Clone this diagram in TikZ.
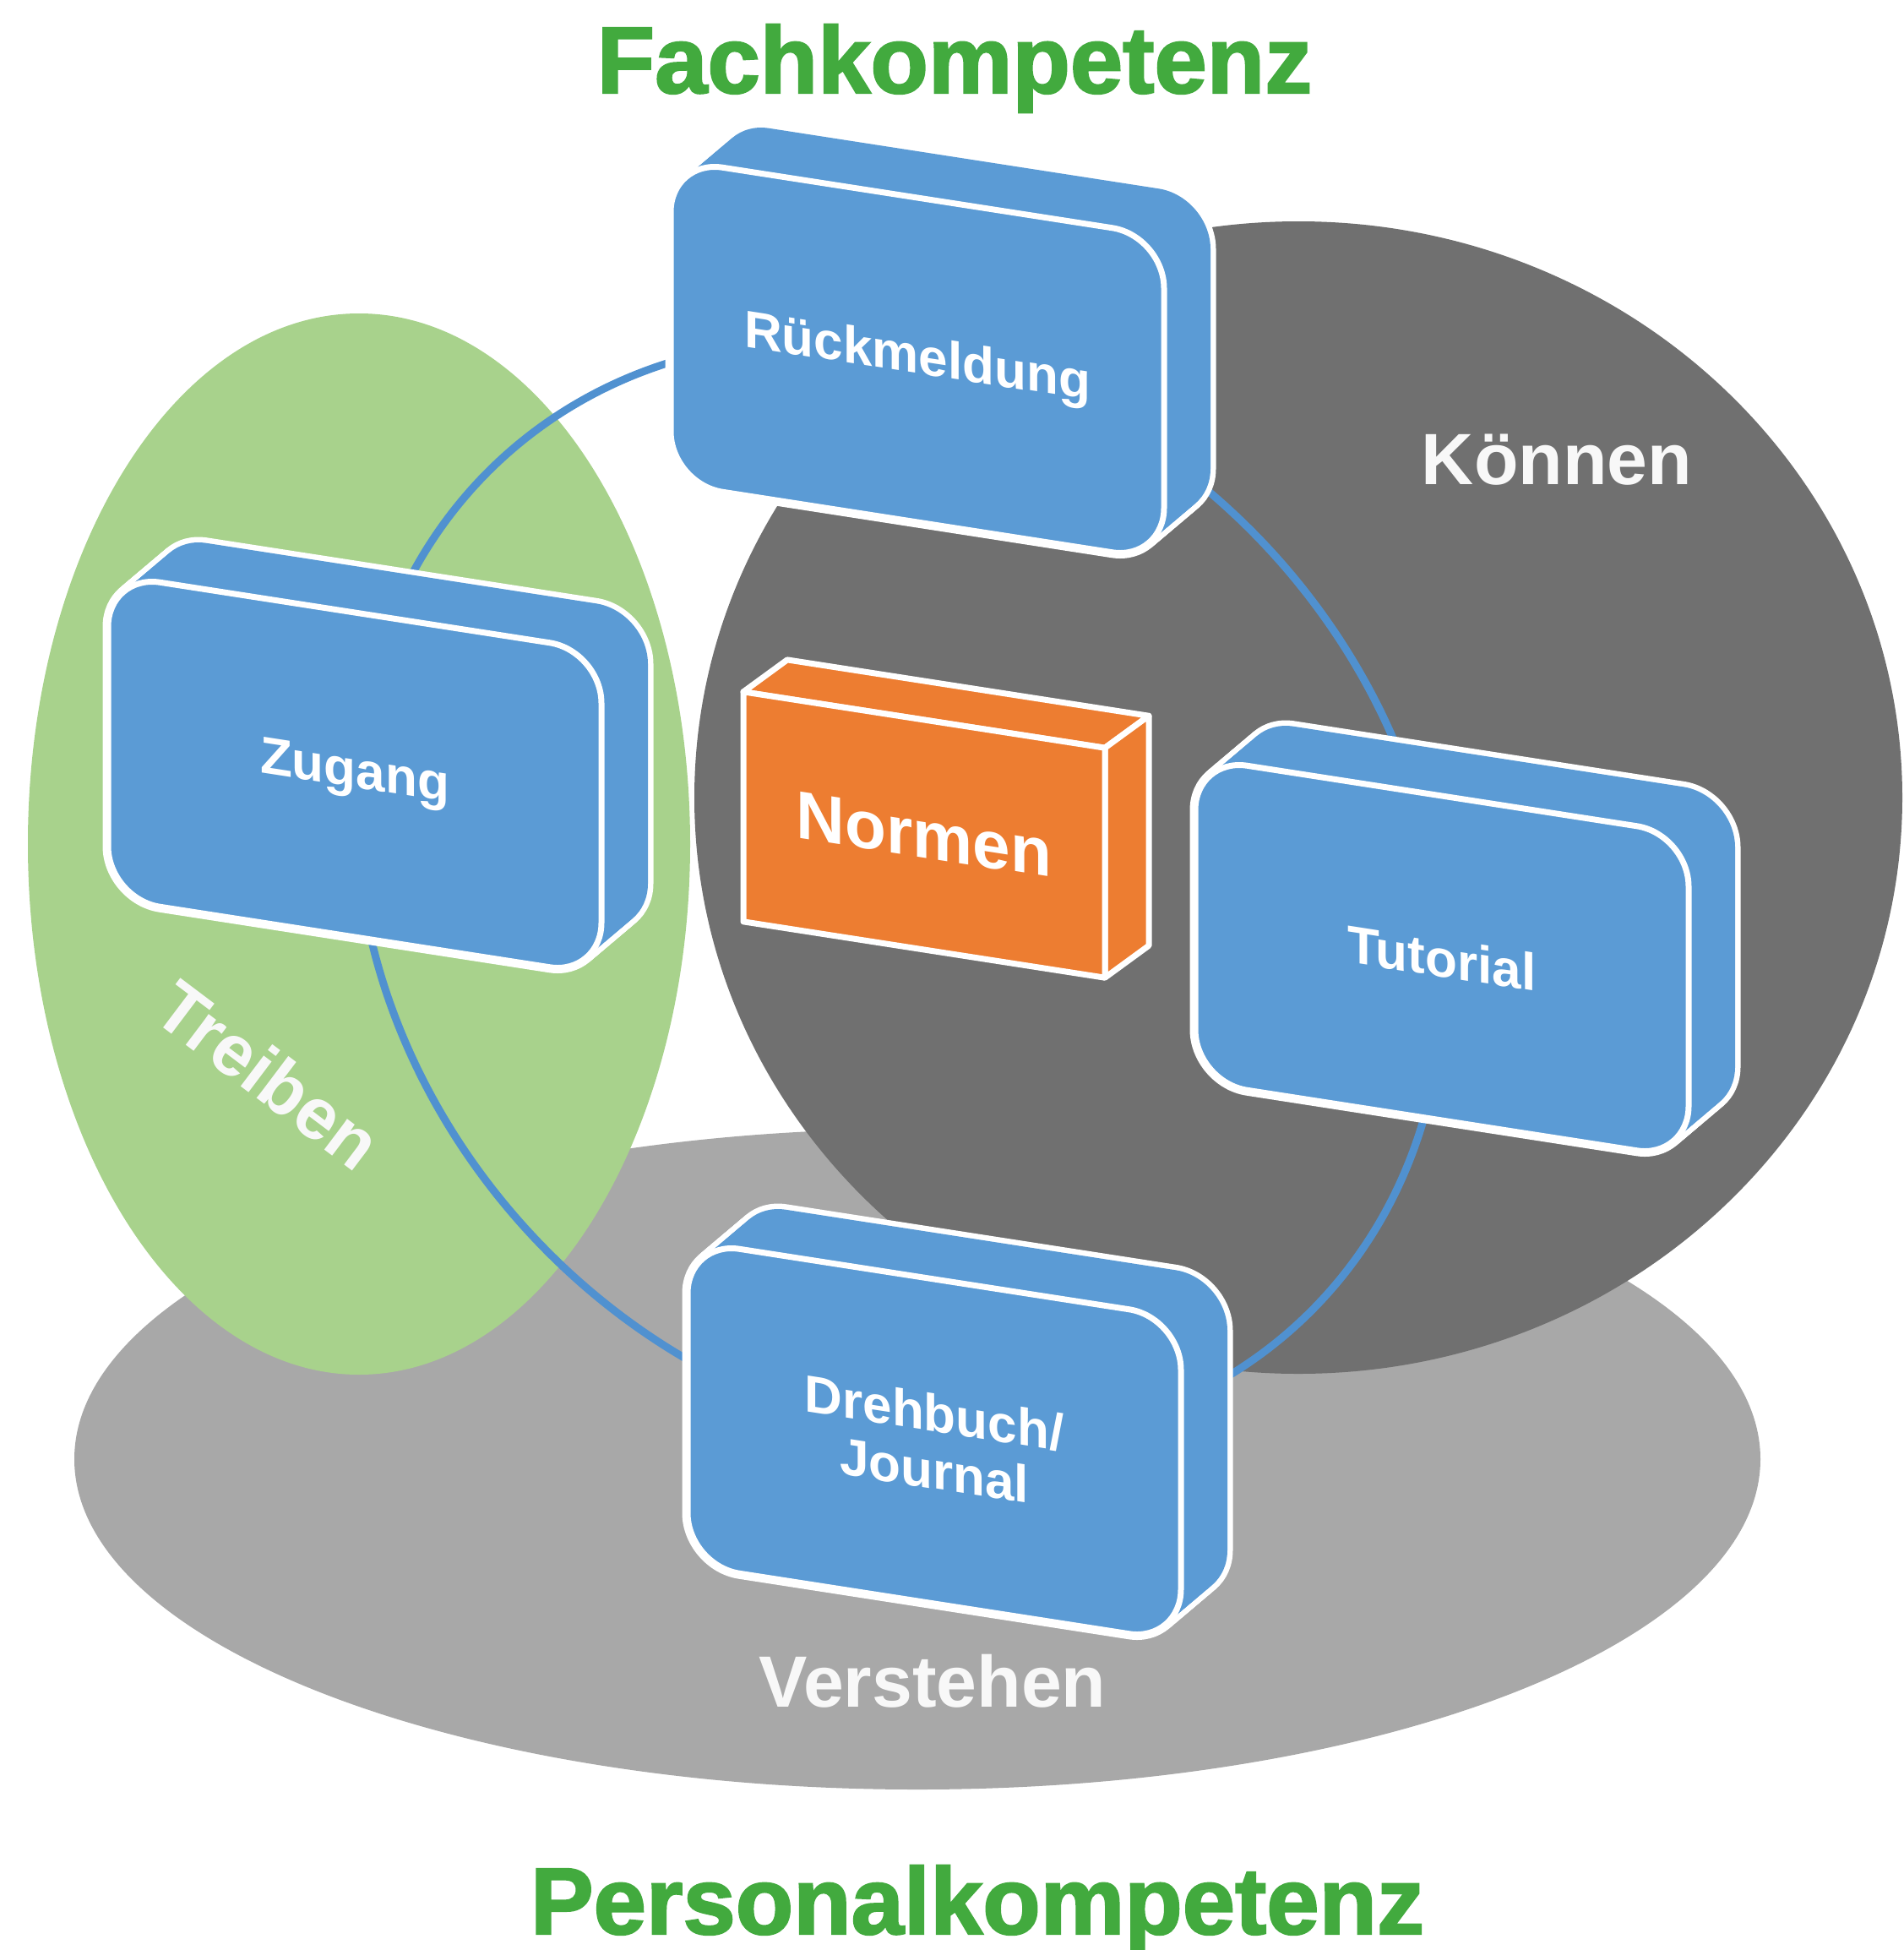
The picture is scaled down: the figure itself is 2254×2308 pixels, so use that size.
\documentclass[tikz,border=0pt]{standalone}
\usepackage{fontspec}
\setmainfont{Liberation Sans}
\newfontfamily\titlefont[FakeBold=2]{Liberation Sans Bold}
\newfontfamily\lblfont{Liberation Sans Bold}
\definecolor{boxblue}{RGB}{91,155,213}
\definecolor{ringblue}{RGB}{80,145,208}
\definecolor{normorange}{RGB}{237,125,49}
\definecolor{darkgray1}{RGB}{112,112,112}
\definecolor{lightgray1}{RGB}{168,168,168}
\definecolor{leafgreen}{RGB}{168,210,140}
\definecolor{titlegreen}{RGB}{66,170,62}
\definecolor{lblwhite}{RGB}{248,248,248}
\tikzset{
  boxtext/.style={text=white, inner sep=0pt, align=center, font=\lblfont\fontsize{62}{68}\selectfont},
  areatext/.style={text=lblwhite, inner sep=0pt, font=\lblfont\fontsize{86}{90}\selectfont},
  titletext/.style={text=titlegreen, inner sep=0pt, font=\titlefont\fontsize{112}{112}\selectfont},
  facewhite/.style={draw=white, line width=7pt, line join=round},
}
\newcommand\roundbox[4]{%
  \begin{scope}[shift={(#2,#3)}, yslant=-0.155]
    \foreach \i in {0,...,20}{
      \draw[white, line width=13pt, rounded corners=62pt]
        ({-292+55*\i/20},{-192-55*\i/20}) rectangle ({292+55*\i/20},{192-55*\i/20});}
    \foreach \i in {0,...,20}{
      \fill[boxblue, rounded corners=62pt]
        ({-292+55*\i/20},{-192-55*\i/20}) rectangle ({292+55*\i/20},{192-55*\i/20});}
    \draw[facewhite, fill=boxblue, rounded corners=62pt] (-292,-192) rectangle (292,192);
    \node[boxtext, transform shape] (#1) at (0,0) {#4};
  \end{scope}}
\begin{document}
\begin{tikzpicture}[x=1pt, y=-1pt]
  \useasboundingbox (0,0) rectangle (2254,2308);
  \fill[white] (0,0) rectangle (2254,2308);
  % areas
  \fill[lightgray1] (1086,1727) ellipse [x radius=998, y radius=391];
  \fill[darkgray1] (1537,944) ellipse [x radius=715, y radius=682];
  \fill[leafgreen] (425,999) ellipse [x radius=392, y radius=628];
  % ring
  \begin{scope}[shift={(1065,1055)}, yslant=-0.155]
    \draw[ringblue, line width=9pt] (0,0) circle (644);
  \end{scope}
  % central cuboid
  \begin{scope}[shift={(1094,988)}, yslant=-0.155]
    \draw[facewhite, fill=normorange] (-214,-136) -- (-162,-182) -- (266,-182) -- (214,-136) -- cycle;
    \draw[facewhite, fill=normorange] (214,-136) -- (266,-182) -- (266,90) -- (214,136) -- cycle;
    \draw[facewhite, fill=normorange] (-214,-136) rectangle (214,136);
    \node[boxtext, transform shape, font=\lblfont\fontsize{80}{84}\selectfont] (normen) at (0,0) {Normen};
  \end{scope}
  % boxes
  \roundbox{rueck}{1086}{426}{R\"uckmeldung}
  \roundbox{zugang}{420}{917}{Zugang}
  \roundbox{tutorial}{1707}{1134}{Tutorial}
  \roundbox{dreh}{1106}{1706}{Drehbuch/\\Journal}
  % labels
  \node[areatext, anchor=base] (koennen) at (1843,573) {K\"onnen};
  \node[areatext, anchor=base] (verstehen) at (1104,2020) {Verstehen};
  \node[areatext, rotate=-37] (treiben) at (318,1272) {Treiben};
  \node[titletext, anchor=base] (fach) at (1130,110) {Fachkompetenz};
  \node[titletext, anchor=base] (personal) at (1157,2289) {Personalkompetenz};
\end{tikzpicture}
\end{document}
